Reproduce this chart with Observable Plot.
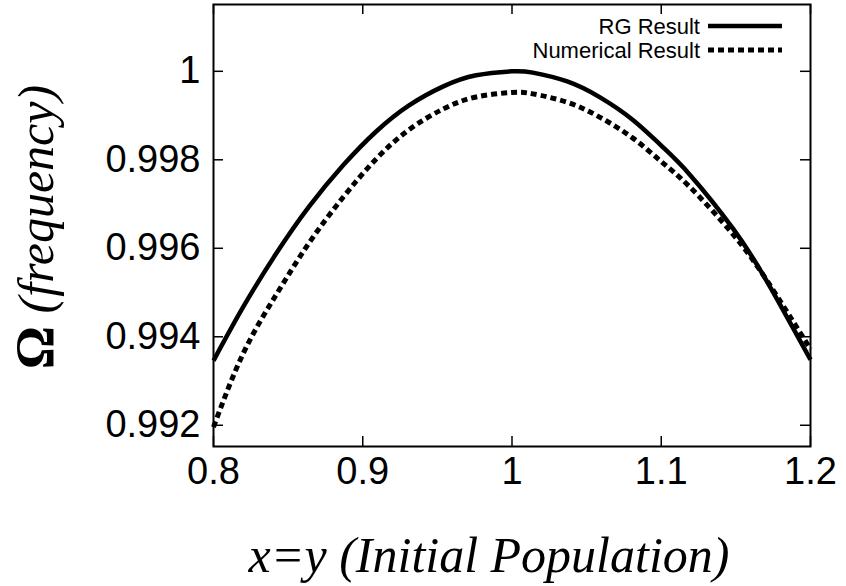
<!DOCTYPE html>
<html><head><meta charset="utf-8">
<script src="https://cdn.jsdelivr.net/npm/d3@7"></script>
<script src="https://cdn.jsdelivr.net/npm/@observablehq/plot@0.6"></script>
<style>body{margin:0;background:#fff} #chart svg{display:block}</style>
</head><body><div id="chart"></div>
<script>
// Data
const xValues = [0.8, 0.82, 0.842, 0.864, 0.887, 0.909, 0.931, 0.954, 0.976, 1.0, 1.014, 1.037, 1.059, 1.081, 1.1, 1.119, 1.148, 1.171, 1.2];
const rgValues = [0.99346, 0.99468, 0.99588, 0.99694, 0.99788, 0.99864, 0.99923, 0.99966, 0.99991, 1.0, 0.99997, 0.99977, 0.99941, 0.99890, 0.99832, 0.99767, 0.99645, 0.99524, 0.99348];
const numericalValues = [0.99196, 0.99363, 0.99495, 0.99612, 0.99716, 0.99802, 0.99868, 0.99915, 0.99942, 0.99952, 0.99949, 0.99930, 0.99896, 0.99849, 0.99796, 0.99739, 0.99632, 0.99526, 0.99372];
const xTicks = [0.8, 0.9, 1, 1.1, 1.2];
const xTickLabels = ["0.8", "0.9", "1", "1.1", "1.2"];
const yTicks = [0.992, 0.994, 0.996, 0.998, 1];
const yTickLabels = ["0.992", "0.994", "0.996", "0.998", "1"];
const seriesNames = ["RG Result", "Numerical Result"];
const xTitle = "x=y (Initial Population)";
const yTitleSymbol = "Ω";
const yTitleText = " (frequency)";

const rgRows = xValues.map((x, i) => ({x, y: rgValues[i]}));
const numRows = xValues.map((x, i) => ({x, y: numericalValues[i]}));

const W = 846, H = 586, mL = 213, mR = 36, mT = 4, mB = 140;
const innerW = W - mL - mR, innerH = H - mT - mB, tick = 10;

const plot = Plot.plot({
  width: W, height: H,
  marginLeft: mL, marginRight: mR, marginTop: mT, marginBottom: mB,
  x: {domain: [0.8, 1.2]},
  y: {domain: [0.99152, 1.00151]},
  style: {fontFamily: "'Liberation Sans', Arial, sans-serif", background: "#fff", color: "#000"},
  marks: [
    Plot.axisX({ticks: xTicks, tickSize: 0, tickPadding: 11, fontSize: 38, label: null,
      tickFormat: d => xTickLabels[xTicks.indexOf(d)]}),
    Plot.axisY({ticks: yTicks, tickSize: 0, tickPadding: 13, fontSize: 38, label: null,
      tickFormat: d => yTickLabels[yTicks.indexOf(d)]}),
    Plot.tickX(xTicks, {x: d => d, insetTop: innerH - tick, stroke: "#000", strokeWidth: 1.5}),
    Plot.tickX(xTicks, {x: d => d, insetBottom: innerH - tick, stroke: "#000", strokeWidth: 1.5}),
    Plot.tickY(yTicks, {y: d => d, insetRight: innerW - tick, stroke: "#000", strokeWidth: 1.5}),
    Plot.tickY(yTicks, {y: d => d, insetLeft: innerW - tick, stroke: "#000", strokeWidth: 1.5}),
    Plot.line(rgRows, {x: "x", y: "y", stroke: "#000", strokeWidth: 4.5, curve: "natural", strokeLinecap: "butt"}),
    Plot.line(numRows, {x: "x", y: "y", stroke: "#000", strokeWidth: 5, strokeDasharray: "6,4", curve: "natural", strokeLinecap: "butt", strokeLinejoin: "miter"}),
    Plot.frame({stroke: "#000", strokeWidth: 2})
  ]
});

document.getElementById("chart").appendChild(plot);
const svg = d3.select(plot);

// Legend (inside frame, top right)
const legend = svg.append("g").attr("font-family", "'Liberation Sans', Arial, sans-serif").attr("font-size", 22);
const dashes = [null, "6,4"];
seriesNames.forEach((name, i) => {
  const ly = 26 + i * 24;
  legend.append("text").attr("x", 700).attr("y", ly + 7.5).attr("text-anchor", "end").attr("fill", "#000").text(name);
  legend.append("line").attr("x1", 708).attr("x2", 782).attr("y1", ly).attr("y2", ly)
    .attr("stroke", "#000").attr("stroke-width", i === 0 ? 4.5 : 5)
    .attr("stroke-dasharray", dashes[i]);
});

// Axis titles
svg.append("text").attr("x", 489).attr("y", 572).attr("text-anchor", "middle")
  .attr("font-family", "'Liberation Serif', 'Times New Roman', serif").attr("font-style", "italic")
  .attr("font-size", 50).attr("fill", "#000").text(xTitle);

const yt = svg.append("text").attr("transform", "translate(53,227) rotate(-90)").attr("text-anchor", "middle")
  .attr("font-family", "'Liberation Serif', 'Times New Roman', serif").attr("font-size", 50).attr("fill", "#000");
yt.append("tspan").attr("font-weight", "bold").attr("font-size", 54).text(yTitleSymbol);
yt.append("tspan").attr("font-style", "italic").text(yTitleText);
</script>
</body></html>
